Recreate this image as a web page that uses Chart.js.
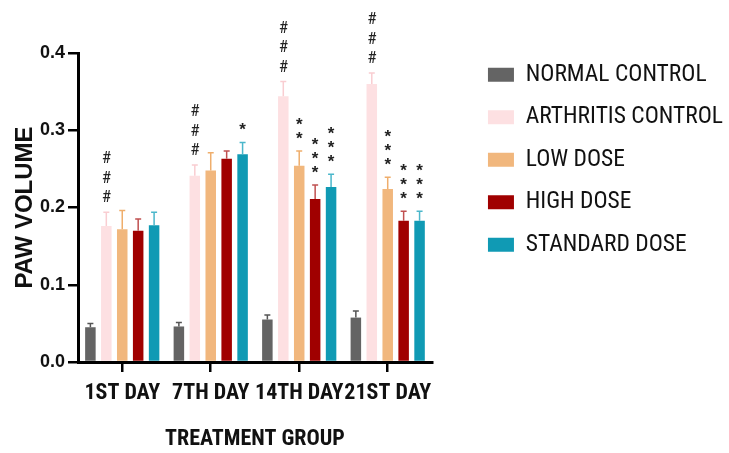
<!DOCTYPE html>
<html>
<head>
<meta charset="utf-8">
<script src="https://cdn.jsdelivr.net/npm/chart.js@4/dist/chart.umd.min.js"></script>
<style>
  html, body { margin: 0; padding: 0; background: #fff; }
  #wrap { width: 729px; height: 453px; }
</style>
</head>
<body>
<div id="wrap"><canvas id="pawChart"></canvas></div>
<script>
// --- DATA ---
const days = ['1ST DAY', '7TH DAY', '14TH DAY', '21ST DAY'];
const groups = ['NORMAL CONTROL', 'ARTHRITIS CONTROL', 'LOW DOSE', 'HIGH DOSE', 'STANDARD DOSE'];
const yTicks = [0.0, 0.1, 0.2, 0.3, 0.4];

// mean paw volume per day
const normalMean    = [0.045, 0.046, 0.055, 0.0575];
const arthritisMean = [0.176, 0.241, 0.344, 0.360];
const lowMean       = [0.172, 0.248, 0.254, 0.224];
const highMean      = [0.170, 0.263, 0.211, 0.183];
const standardMean  = [0.177, 0.269, 0.2265, 0.183];

// upper error (SEM)
const normalErr    = [0.005, 0.005, 0.006, 0.0085];
const arthritisErr = [0.018, 0.014, 0.019, 0.014];
const lowErr       = [0.024, 0.023, 0.019, 0.015];
const highErr      = [0.015, 0.010, 0.018, 0.012];
const standardErr  = [0.017, 0.015, 0.0165, 0.012];

// significance marks
const normalMarks    = ['', '', '', ''];
const arthritisMarks = ['###', '###', '###', '###'];
const lowMarks       = ['', '', '**', '***'];
const highMarks      = ['', '', '***', '***'];
const standardMarks  = ['', '*', '***', '***'];

// --- STYLE ---
const NARROW = "'Roboto Condensed', 'Liberation Sans', Arial, sans-serif";
const SANS = "'Liberation Sans', Arial, sans-serif";

function makeSet(i, data, errors, marks, fill, errColor) {
    return {
        label: groups[i],
        data: data,
        errors: errors,
        marks: marks,
        errorColor: errColor,
        backgroundColor: fill,
        borderWidth: 0,
        barPercentage: 0.66,
        categoryPercentage: 0.9
    };
}

// Error bars + significance symbols
const errorBars = {
    id: 'errorBars',
    afterDatasetsDraw(chart) {
        const ctx = chart.ctx;
        const y = chart.scales.y;
        chart.data.datasets.forEach((ds, i) => {
            const meta = chart.getDatasetMeta(i);
            meta.data.forEach((bar, j) => {
                const top = y.getPixelForValue(ds.data[j] + ds.errors[j]);
                ctx.save();
                ctx.strokeStyle = ds.errorColor;
                ctx.lineWidth = 1.5;
                ctx.beginPath();
                ctx.moveTo(bar.x, bar.y);
                ctx.lineTo(bar.x, top);
                ctx.moveTo(bar.x - 3, top);
                ctx.lineTo(bar.x + 3, top);
                ctx.stroke();

                const marks = ds.marks[j];
                ctx.fillStyle = '#222';
                ctx.textAlign = 'center';
                ctx.textBaseline = 'alphabetic';
                for (let k = 0; k < marks.length; k++) {
                    const ch = marks[k];
                    const isHash = ch === '#';
                    ctx.font = isHash ? "17px " + NARROW : "bold 17px " + SANS;
                    const step = isHash ? 19.4 : 14;
                    const cy = top - 16 - k * step;
                    const m = ctx.measureText(ch);
                    const by = cy + (m.actualBoundingBoxAscent - m.actualBoundingBoxDescent) / 2;
                    ctx.fillText(ch, bar.x, by);
                }
                ctx.restore();
            });
        });
    }
};

const ctx = document.getElementById('pawChart').getContext('2d');

new Chart(ctx, {
    type: 'bar',
    data: {
        labels: days,
        datasets: [
            makeSet(0, normalMean, normalErr, normalMarks, '#646464', '#555555'),
            makeSet(1, arthritisMean, arthritisErr, arthritisMarks, '#FDE0E2', '#F9CDD1'),
            makeSet(2, lowMean, lowErr, lowMarks, '#F1B77D', '#EFAE6C'),
            makeSet(3, highMean, highErr, highMarks, '#A00000', '#C05050'),
            makeSet(4, standardMean, standardErr, standardMarks, '#109AB4', '#4BB7CB')
        ]
    },
    options: {
        responsive: true,
        maintainAspectRatio: false,
        animation: false,
        layout: { padding: { top: 44, right: -4, bottom: 0, left: 0 } },
        plugins: {
            legend: {
                position: 'right',
                align: 'start',
                maxWidth: 320,
                labels: {
                    boxWidth: 26,
                    boxHeight: 14,
                    padding: 19,
                    color: '#111',
                    font: { family: NARROW, size: 23.5 }
                }
            },
            tooltip: { enabled: false }
        },
        scales: {
            x: {
                grid: { offset: false, drawOnChartArea: false, color: '#000', lineWidth: 2.5, tickLength: 10 },
                border: { color: '#000', width: 3 },
                ticks: {
                    color: '#111', padding: 8, autoSkip: false, maxRotation: 0, minRotation: 0,
                    font: { family: NARROW, size: 22, weight: 'bold' }
                },
                title: {
                    display: true, text: 'TREATMENT GROUP', color: '#111',
                    font: { family: NARROW, size: 22, weight: 'bold' },
                    padding: { top: 0, bottom: 0 }
                },
                afterFit: s => { s.height = 91; }
            },
            y: {
                min: 0,
                max: 0.4,
                grid: { drawOnChartArea: false, color: '#000', lineWidth: 2.5, tickLength: 10 },
                border: { color: '#000', width: 3 },
                afterBuildTicks: s => { s.ticks = yTicks.map(v => ({ value: v })); },
                ticks: {
                    color: '#111', padding: 3,
                    font: { family: SANS, size: 18, weight: 'bold' },
                    callback: v => v.toFixed(1)
                },
                title: {
                    display: true, text: 'PAW VOLUME', color: '#111',
                    font: { family: SANS, size: 24, weight: 'bold' },
                    padding: { top: 11, bottom: 0 }
                },
                afterFit: s => { s.width = 78; }
            },
            // spacers: push plot top down and keep legend clear of the x axis
            xTop: {
                type: 'linear', position: 'top', display: true,
                grid: { display: false }, border: { display: false }, ticks: { display: false },
                afterFit: s => { s.height = 9; }
            },
            yRight: {
                type: 'linear', position: 'right', display: true,
                grid: { display: false }, border: { display: false }, ticks: { display: false },
                afterFit: s => { s.width = 37; }
            }
        }
    },
    plugins: [errorBars]
});
</script>
</body>
</html>
